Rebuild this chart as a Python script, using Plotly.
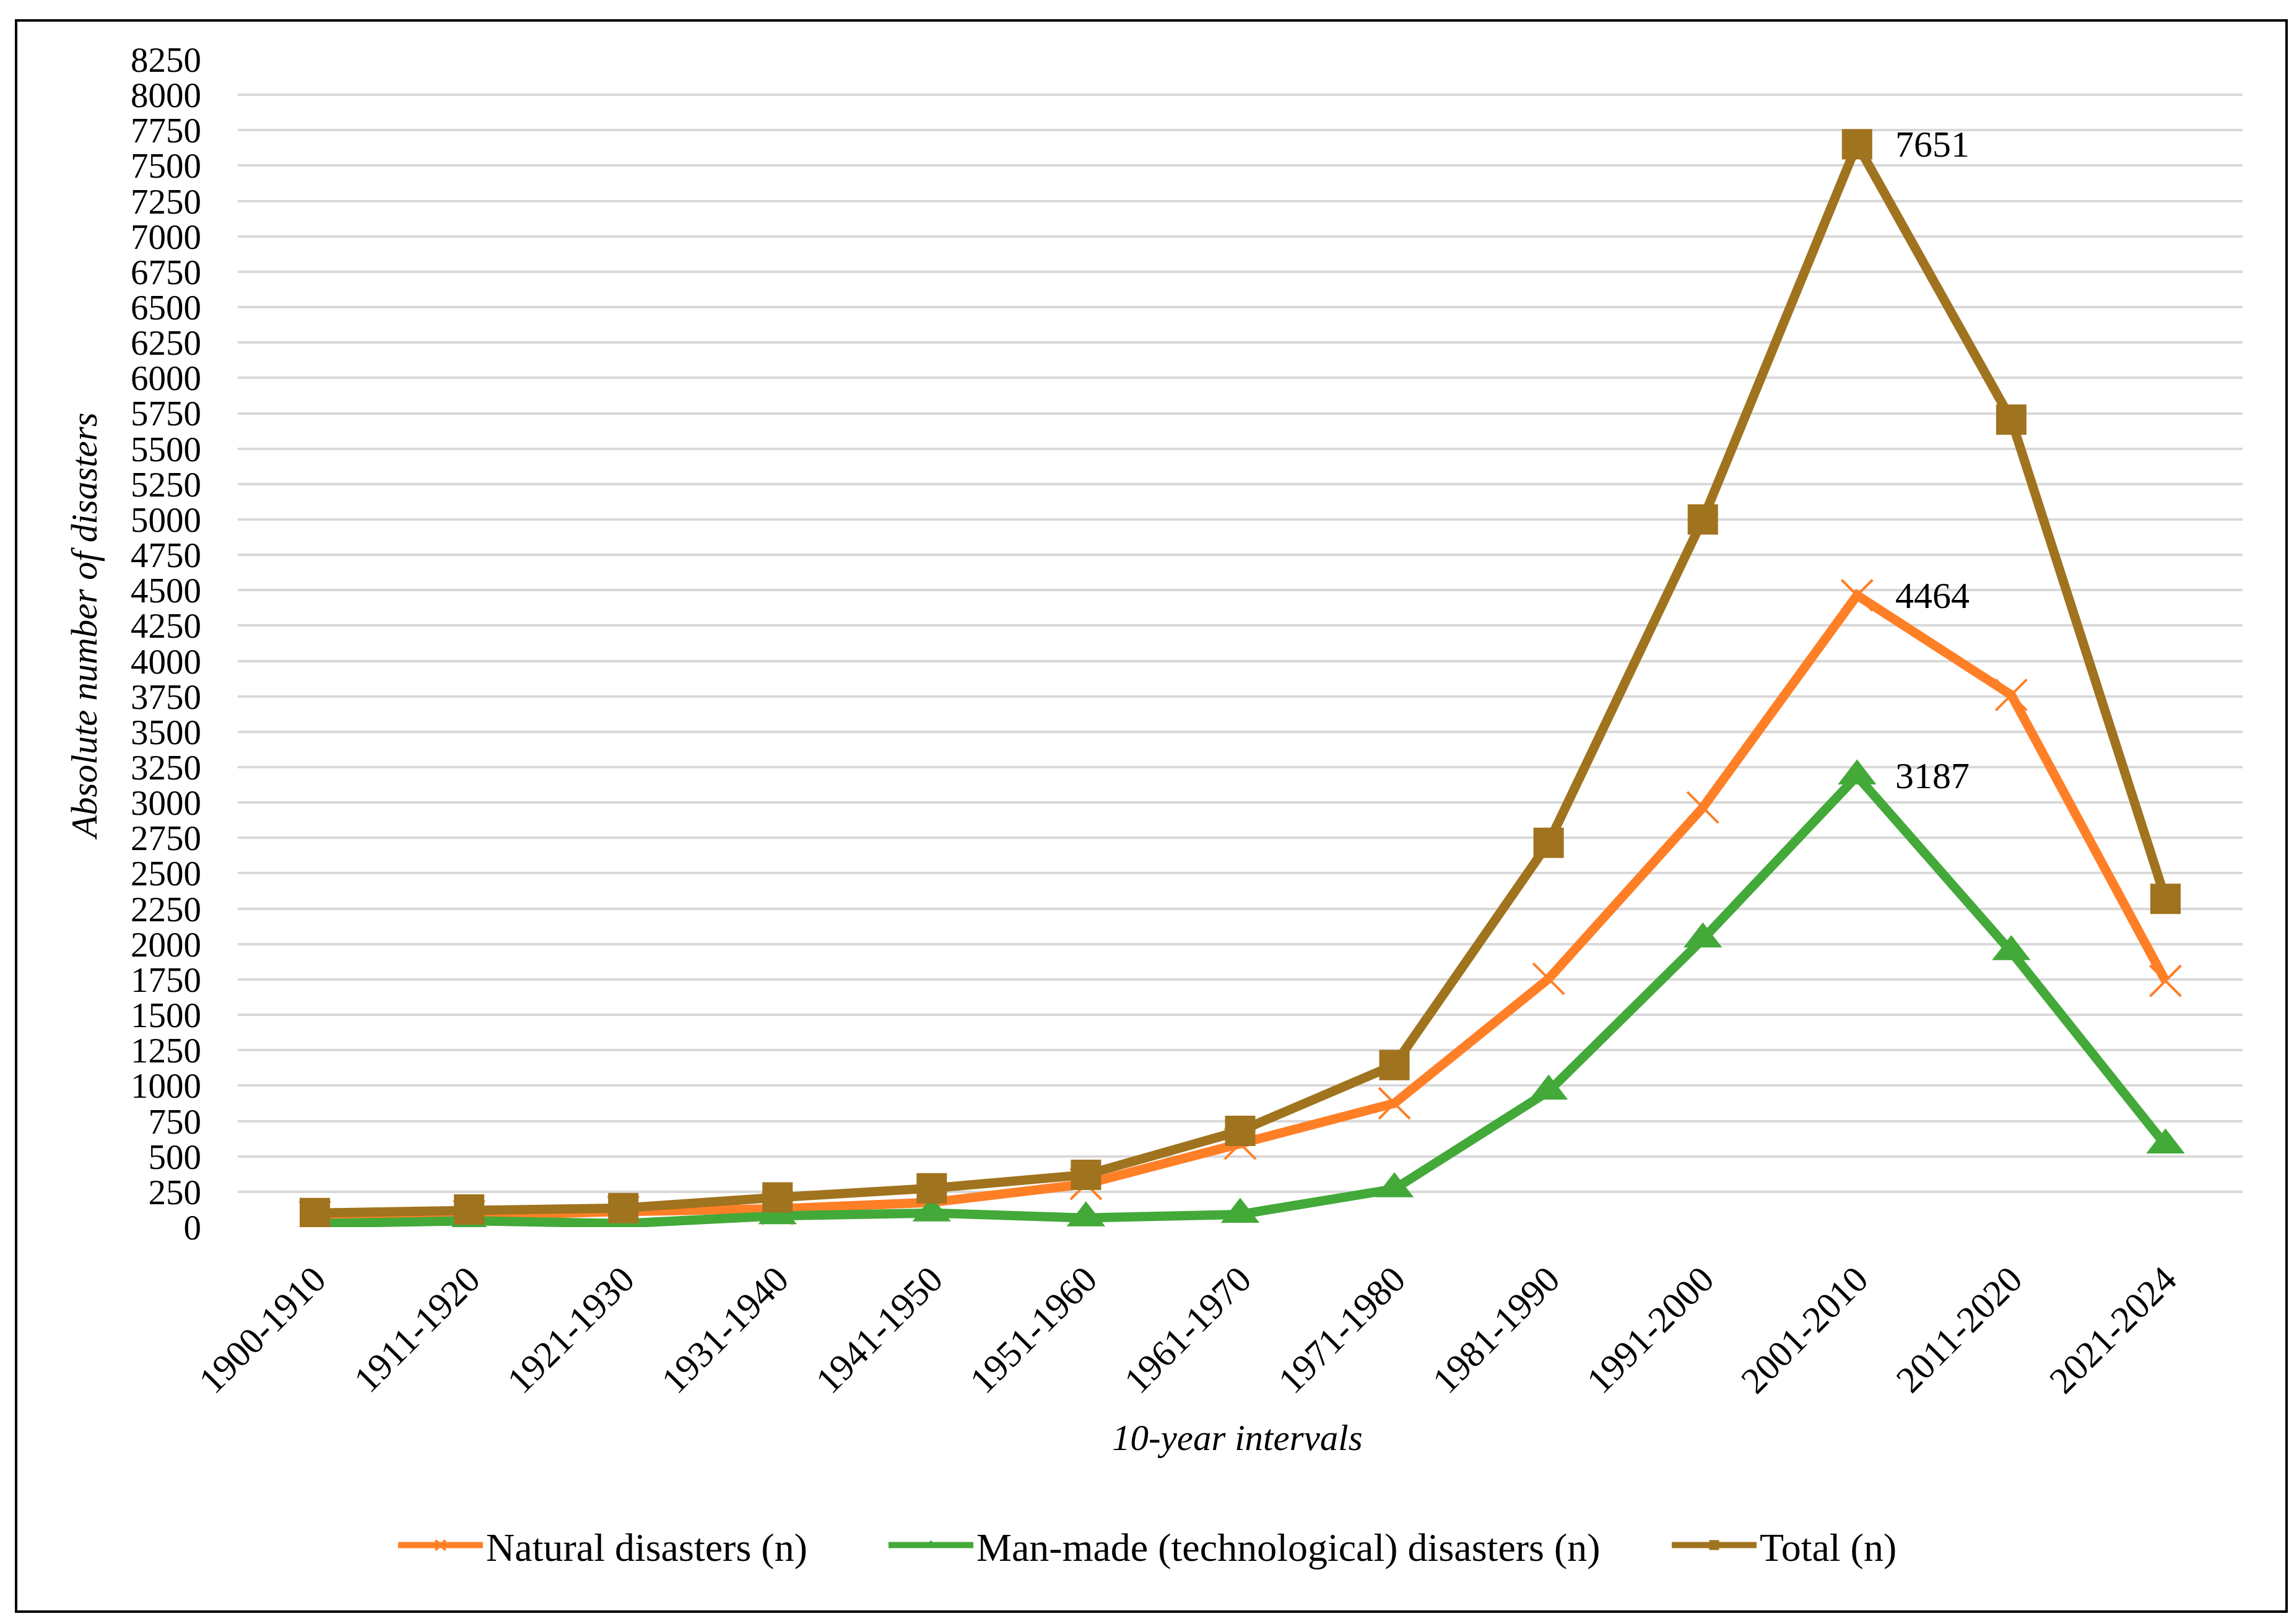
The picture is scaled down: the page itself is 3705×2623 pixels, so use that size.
import plotly.graph_objects as go

categories = ["1900-1910", "1911-1920", "1921-1930", "1931-1940", "1941-1950",
              "1951-1960", "1961-1970", "1971-1980", "1981-1990", "1991-2000",
              "2001-2010", "2011-2020", "2021-2024"]
natural = [75, 80, 110, 130, 175, 305, 590, 875, 1755, 2965, 4464, 3760, 1740]
manmade = [25, 45, 25, 80, 100, 65, 90, 270, 960, 2035, 3187, 1945, 580]
total = [100, 125, 135, 210, 275, 370, 680, 1145, 2715, 5000, 7651, 5705, 2320]

series_names = ["Natural disasters (n)", "Man-made (technological) disasters (n)", "Total (n)"]
y_ticks = list(range(0, 8251, 250))

FONT = "Liberation Serif"
C_NAT = "#FF7F27"
C_MAN = "#43A939"
C_TOT = "#A0731E"

W, H = 3705, 2623
L, R, T, B = 376, 91, 88, 649
PW, PH = W - L - R, H - T - B


def px_x(px):
    return (px - L) / PW


def px_y(py):
    return (H - B - py) / PH


fig = go.Figure()
fig.add_trace(go.Scatter(
    x=categories, y=natural, name=series_names[0], mode="lines+markers",
    line=dict(color=C_NAT, width=15), legend="legend",
    marker=dict(symbol="x-thin-open", size=50, color=C_NAT, line=dict(color=C_NAT, width=4)),
))
fig.add_trace(go.Scatter(
    x=categories, y=manmade, name=series_names[1], mode="lines+markers",
    line=dict(color=C_MAN, width=15), legend="legend2",
    marker=dict(symbol="triangle-up", size=54, color=C_MAN),
))
fig.add_trace(go.Scatter(
    x=categories, y=total, name=series_names[2], mode="lines+markers",
    line=dict(color=C_TOT, width=15), legend="legend3",
    marker=dict(symbol="square", size=49, color=C_TOT),
))

annotations = []
for vals in (total, natural, manmade):
    i = vals.index(max(vals))
    annotations.append(dict(
        x=categories[i], y=vals[i], xref="x", yref="y", text=str(vals[i]),
        showarrow=False, xanchor="left", yanchor="middle", xshift=60,
        font=dict(family=FONT, size=60, color="black"),
    ))

annotations.append(dict(
    text="<i>Absolute number of disasters</i>", xref="paper", yref="paper",
    x=px_x(128), y=px_y(1004), textangle=-90, showarrow=False,
    xanchor="center", yanchor="middle", font=dict(family=FONT, size=59, color="black"),
))
annotations.append(dict(
    text="<i>10-year intervals</i>", xref="paper", yref="paper",
    x=px_x(1990), y=px_y(2314), showarrow=False,
    xanchor="center", yanchor="middle", font=dict(family=FONT, size=59, color="black"),
))

legend_common = dict(
    orientation="h", yanchor="middle", xanchor="left",
    font=dict(family=FONT, size=64, color="black"), itemwidth=137,
    bgcolor="rgba(0,0,0,0)",
)
legend_starts = [630, 1422, 2687]
legend_y = px_y(2488)

fig.update_layout(
    width=W, height=H,
    margin=dict(l=L, r=R, t=T, b=B, autoexpand=False),
    paper_bgcolor="white", plot_bgcolor="white",
    font=dict(family=FONT, size=56, color="black"),
    showlegend=True,
    legend=dict(legend_common, x=px_x(legend_starts[0]), y=legend_y),
    legend2=dict(legend_common, x=px_x(legend_starts[1]), y=legend_y),
    legend3=dict(legend_common, x=px_x(legend_starts[2]), y=legend_y),
    annotations=annotations,
    shapes=[dict(
        type="rect", xref="paper", yref="paper",
        x0=px_x(18), x1=px_x(3685), y0=px_y(2595), y1=px_y(25),
        line=dict(color="black", width=4), fillcolor="rgba(0,0,0,0)", layer="below",
    )],
)
fig.update_xaxes(
    type="category", range=[-0.5, len(categories) - 0.5],
    showgrid=False, showline=False, zeroline=False,
    tickangle=-45, ticks="", ticklabelstandoff=36,
    tickfont=dict(family=FONT, size=60, color="black"),
)
fig.update_yaxes(
    range=[0, 8250], tickvals=y_ticks, ticktext=[str(v) for v in y_ticks],
    showgrid=True, gridcolor="#D9D9D9", gridwidth=4,
    showline=False, zeroline=False, ticks="", ticklabelstandoff=58,
    tickfont=dict(family=FONT, size=57, color="black"),
)

fig.write_html("out.html")
